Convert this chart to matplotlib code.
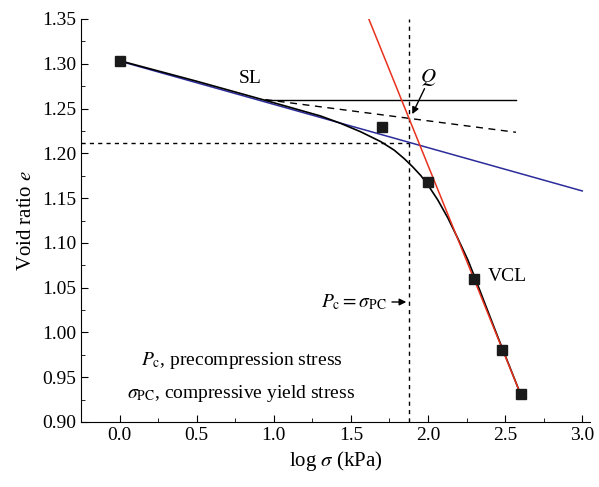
import numpy as np
import matplotlib
matplotlib.use("Agg")
import matplotlib.pyplot as plt
from matplotlib.ticker import MultipleLocator

# measured points (log sigma, void ratio)
log_sigma = [0.0, 1.7, 2.0, 2.3, 2.48, 2.6]
void_ratio = [1.303, 1.229, 1.168, 1.060, 0.980, 0.931]

# fitted compression curve
curve_x = [0.0, 0.5, 1.0, 1.303, 1.433, 1.564, 1.694, 1.781, 1.846, 1.900, 1.954, 1.998,
           2.063, 2.128, 2.193, 2.258, 2.302, 2.45, 2.6]
curve_y = [1.3035, 1.2805, 1.2565, 1.2417, 1.2335, 1.2240, 1.2130, 1.2035, 1.1940, 1.1850,
           1.1750, 1.1650, 1.1480, 1.1280, 1.1050, 1.0810, 1.0620, 0.9960, 0.931]

# swelling line (blue) and virgin compression line (red) end points
sl_x = [0.0, 3.0]
sl_y = [1.303, 1.158]
vcl_x = [1.616, 2.6]
vcl_y = [1.35, 0.931]

# construction lines
horiz_x = [0.945, 2.57]
horiz_y = [1.26, 1.26]
bisect_x = [0.945, 2.57]
bisect_y = [1.26, 1.2235]
pc_x = 1.877
pc_e = 1.211

plt.rcParams['font.family'] = ['Liberation Serif', 'DejaVu Serif']
plt.rcParams['mathtext.fontset'] = 'stix'

fig = plt.figure(figsize=(5.99, 4.87), dpi=100)
ax = fig.add_axes([81 / 599, 65 / 487, (590 - 81) / 599, (422 - 19) / 487])

ax.plot(curve_x, curve_y, color='black', lw=1.2, zorder=4, solid_joinstyle='round')
ax.plot(sl_x, sl_y, color='#2b2b9a', lw=1.1, zorder=3)
ax.plot(vcl_x, vcl_y, color='#e8321e', lw=1.1, zorder=4)
ax.plot(horiz_x, horiz_y, color='black', lw=1.0)
ax.plot(bisect_x, bisect_y, color='black', lw=1.0, ls=(0, (5, 4)))
ax.plot([-0.25, pc_x], [pc_e, pc_e], color='black', lw=1.0, ls=(0, (3, 3)))
ax.plot([pc_x, pc_x], [0.9, 1.35], color='black', lw=1.0, ls=(0, (3, 3)))
ax.plot(log_sigma, void_ratio, ls='none', marker='s', ms=7, color='#1a1a1a', zorder=5)

ax.text(0.85, 1.284, 'SL', fontsize=14, ha='center', va='center')
ax.text(2.385, 1.062, 'VCL', fontsize=14, ha='left', va='center')
ax.text(2.0, 1.285, r'$Q$', fontsize=15, ha='center', va='center')
ax.annotate('', xy=(1.89, 1.241), xytext=(1.985, 1.275),
            arrowprops=dict(arrowstyle='-|>', color='black', lw=1.0, mutation_scale=10))
ax.annotate(r'$P_{\mathrm{c}} = \sigma_{\mathrm{PC}}$', xy=(pc_x, 1.034), xytext=(1.73, 1.034),
            fontsize=14, ha='right', va='center',
            arrowprops=dict(arrowstyle='-|>', color='black', lw=1.0, mutation_scale=10))
ax.text(0.79, 0.969, r'$P_{\mathrm{c}}$, precompression stress', fontsize=14, ha='center', va='center')
ax.text(0.79, 0.932, r'$\sigma_{\mathrm{PC}}$, compressive yield stress', fontsize=14, ha='center', va='center')

ax.set_xlim(-0.25, 3.05)
ax.set_ylim(0.9, 1.35)
ax.xaxis.set_major_locator(MultipleLocator(0.5))
ax.xaxis.set_minor_locator(MultipleLocator(0.25))
ax.yaxis.set_major_locator(MultipleLocator(0.05))
ax.yaxis.set_minor_locator(MultipleLocator(0.025))
ax.xaxis.set_major_formatter(plt.FuncFormatter(lambda v, p: f'{v:.1f}'))
ax.yaxis.set_major_formatter(plt.FuncFormatter(lambda v, p: f'{v:.2f}'))
ax.tick_params(which='both', direction='in', labelsize=14)
ax.tick_params(which='major', length=5)
ax.tick_params(which='minor', length=3)
ax.spines['top'].set_visible(False)
ax.spines['right'].set_visible(False)
ax.set_xlabel(r'log $\sigma$ (kPa)', fontsize=15)
ax.set_ylabel(r'Void ratio $e$', fontsize=15)

fig.savefig('out.png', dpi=100)
